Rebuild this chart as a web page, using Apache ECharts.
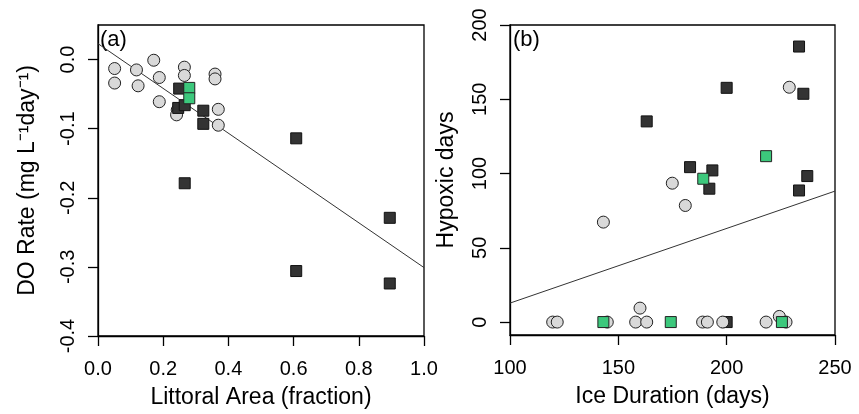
<!DOCTYPE html>
<html>
<head>
<meta charset="utf-8">
<script src="https://cdn.jsdelivr.net/npm/echarts@6/dist/echarts.min.js"></script>
<style>
html,body{margin:0;padding:0;background:#fff;}
#c{width:859px;height:414px;}
</style>
</head>
<body>
<div id="c"></div>
<script>
// ---------- Panel (a): Littoral Area vs DO Rate ----------
const aCircleX = [0.051,0.051,0.118,0.123,0.171,0.188,0.188,0.265,0.265,0.243,0.241,0.359,0.359,0.369,0.369];
const aCircleY = [-0.013,-0.034,-0.015,-0.038,-0.001,-0.026,-0.061,-0.011,-0.023,-0.073,-0.080,-0.021,-0.028,-0.072,-0.095];
const aDarkX = [0.249,0.246,0.266,0.323,0.323,0.608,0.266,0.895,0.608,0.895];
const aDarkY = [-0.042,-0.070,-0.066,-0.074,-0.093,-0.114,-0.179,-0.229,-0.306,-0.324];
const aGreenX = [0.280,0.280];
const aGreenY = [-0.041,-0.056];
const aFit = {intercept: 0.023, slope: -0.324};
const aXTicks = [0,0.2,0.4,0.6,0.8,1.0];
const aYTicks = [-0.4,-0.3,-0.2,-0.1,0.0];

// ---------- Panel (b): Ice Duration vs Hypoxic days ----------
const bCircleX = [228.9,174.9,180.9,143.1,119.7,121.8,144.9,160.0,158.0,163.1,188.9,191.1,198.2,218.2,224.3,227.4];
const bCircleY = [158.1,93.5,78.5,67.3,0,0,0,9.4,0,0,0,0,0,0,3.8,0];
const bDarkX = [233.4,200.0,235.4,163.1,183.1,193.4,192.0,237.2,233.4,200.0];
const bDarkY = [185.5,157.7,153.7,135.1,104.3,102.1,89.8,98.3,88.6,0];
const bGreenX = [218.2,189.2,143.1,174.2,225.5];
const bGreenY = [111.7,96.5,0,0,0];
const bFit = {intercept: -37.5, slope: 0.5027};
const bXTicks = [100,150,200,250];
const bYTicks = [0,50,100,150,200];

const zip = (xs, ys) => xs.map((x, i) => [x, ys[i]]);
const FONT = 'Liberation Sans, Arial, sans-serif';
const circleStyle = {color:'#d9d9d9', borderColor:'#222', borderWidth:1, opacity:1};
const darkStyle = {color:'#333333', borderColor:'#111', borderWidth:1, opacity:1};
const greenStyle = {color:'#3cc87c', borderColor:'#222', borderWidth:1, opacity:1};

function xAxisCfg(idx, min, max, ticks, name, fmt) {
  return {
    gridIndex: idx, type:'value', min:min, max:max,
    name: name, nameLocation:'middle', nameGap: 50,
    nameTextStyle:{fontFamily:FONT, fontSize:23, color:'#000'},
    axisLine:{show:true, onZero:false, lineStyle:{color:'#000', width:1.3}},
    axisTick:{show:true, inside:false, length:10, customValues: ticks, lineStyle:{color:'#000', width:1.3}},
    axisLabel:{show:true, customValues: ticks, margin:23, fontFamily:FONT, fontSize:20, color:'#000', formatter: fmt},
    splitLine:{show:false}
  };
}
function yAxisCfg(idx, min, max, ticks, name, fmt, gap) {
  return {
    gridIndex: idx, type:'value', min:min, max:max,
    name: name, nameLocation:'middle', nameGap: gap, nameRotate: 90,
    nameTextStyle:{fontFamily:FONT, fontSize:23, color:'#000'},
    axisLine:{show:true, onZero:false, lineStyle:{color:'#000', width:1.3}},
    axisTick:{show:true, inside:false, length:10, customValues: ticks, lineStyle:{color:'#000', width:1.3}},
    axisLabel:{show:true, customValues: ticks, rotate:90, margin:20, fontFamily:FONT, fontSize:20, color:'#000', formatter: fmt},
    splitLine:{show:false}
  };
}

const fmt1 = v => Number(v).toFixed(1);
const fmt0 = v => String(Math.round(v));

const aLine = [[0, aFit.intercept], [1, aFit.intercept + aFit.slope * 1]];
const bLine = [[100, bFit.intercept + bFit.slope*100], [250, bFit.intercept + bFit.slope*250]];

const option = {
  animation:false,
  backgroundColor:'#fff',
  grid:[
    {left:98, top:25, width:326, height:311, show:true, borderColor:'#000', borderWidth:1.3, backgroundColor:'transparent'},
    {left:510, top:25, width:325, height:310, show:true, borderColor:'#000', borderWidth:1.3, backgroundColor:'transparent'}
  ],
  xAxis:[
    xAxisCfg(0, 0, 1, aXTicks, 'Littoral Area (fraction)', fmt1),
    xAxisCfg(1, 100, 250, bXTicks, 'Ice Duration (days)', fmt0)
  ],
  yAxis:[
    yAxisCfg(0, -0.4, 0.05, aYTicks, 'DO Rate (mg L\u207B\u00B9day\u207B\u00B9)', fmt1, 59),
    yAxisCfg(1, -8.7, 200, bYTicks, 'Hypoxic days', fmt0, 52)
  ],
  graphic:[
    {type:'text', left:100, top:29, style:{text:'(a)', font:'22px Liberation Sans, Arial, sans-serif', fill:'#000'}},
    {type:'text', left:513, top:29, style:{text:'(b)', font:'22px Liberation Sans, Arial, sans-serif', fill:'#000'}}
  ],
  series:[
    {type:'line', xAxisIndex:0, yAxisIndex:0, data:aLine, symbol:'none', clip:true, lineStyle:{color:'#333', width:1, opacity:1}, z:1},
    {type:'scatter', xAxisIndex:0, yAxisIndex:0, data:zip(aCircleX, aCircleY), symbol:'circle', symbolSize:12, itemStyle:circleStyle, z:2},
    {type:'scatter', xAxisIndex:0, yAxisIndex:0, data:zip(aDarkX, aDarkY), symbol:'rect', symbolSize:11, itemStyle:darkStyle, z:3},
    {type:'scatter', xAxisIndex:0, yAxisIndex:0, data:zip(aGreenX, aGreenY), symbol:'rect', symbolSize:11, itemStyle:greenStyle, z:4},
    {type:'line', xAxisIndex:1, yAxisIndex:1, data:bLine, symbol:'none', clip:true, lineStyle:{color:'#333', width:1, opacity:1}, z:1},
    {type:'scatter', xAxisIndex:1, yAxisIndex:1, data:zip(bDarkX, bDarkY), symbol:'rect', symbolSize:11, itemStyle:darkStyle, z:2},
    {type:'scatter', xAxisIndex:1, yAxisIndex:1, data:zip(bCircleX, bCircleY), symbol:'circle', symbolSize:12, itemStyle:circleStyle, z:3},
    {type:'scatter', xAxisIndex:1, yAxisIndex:1, data:zip(bGreenX, bGreenY), symbol:'rect', symbolSize:11, itemStyle:greenStyle, z:4}
  ]
};
const chart = echarts.init(document.getElementById('c'), null, {renderer:'canvas'});
chart.setOption(option);
</script>
</body>
</html>
